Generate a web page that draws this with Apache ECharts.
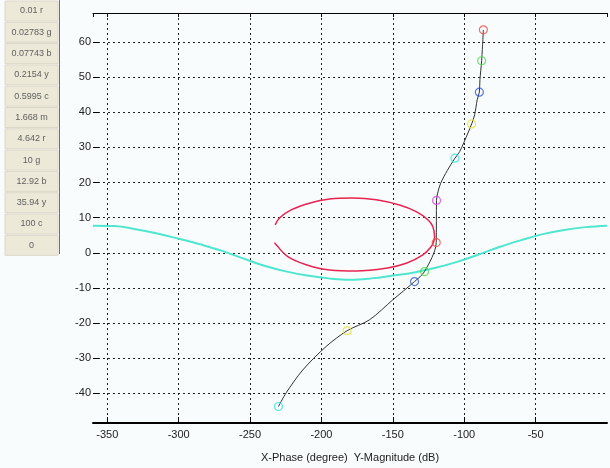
<!DOCTYPE html>
<html>
<head>
<meta charset="utf-8">
<script src="https://cdn.jsdelivr.net/npm/echarts@6/dist/echarts.min.js"></script>
<style>
  html, body { margin: 0; padding: 0; background: #f8fcfc; }
  #main { width: 610px; height: 468px; }
</style>
</head>
<body>
<div id="main"></div>
<script>
// frequency buttons on the left (value + colour letter)
var freqLabels = ['0.01 r', '0.02783 g', '0.07743 b', '0.2154 y', '0.5995 c', '1.668 m',
                  '4.642 r', '10 g', '12.92 b', '35.94 y', '100 c', '0'];

// open-loop nichols curve (phase deg, magnitude dB)
var plantPhase = [-86.6, -87.8, -89, -89.4, -90.9, -92.7, -94.8, -97.4, -103.2, -106.5,
                  -111.9, -116.5, -118.6, -119.4, -119.6, -127.8, -134.8, -150, -166.3,
                  -182, -196.7, -213.1, -224.7, -230.1];
var plantMag = [63.5, 54.7, 49.3, 45.75, 43.6, 39.3, 36.7, 34.1, 28.8, 26.95,
                23.4, 19.8, 17.0, 14.9, 2.9, -5.36, -8.2, -13.4, -19.1,
                -22.2, -26.7, -33.4, -39.9, -43.8];

// markers at the frequency points
var markerPhase = [-86.6, -87.8, -89.4, -94.8, -106.5, -119.4, -119.6, -127.8, -134.8, -182, -230.1];
var markerMag = [63.5, 54.7, 45.75, 36.7, 26.95, 14.9, 2.9, -5.36, -8.2, -22.2, -43.8];

// cyan contour
var cyanPhase = [-360, -345, -330, -315, -300, -285, -270, -255, -240, -225, -210, -195, -180,
                 -165, -150, -135, -120, -105, -90, -75, -60, -45, -30, -15, 0];
var cyanMag = [7.7, 7.6, 6.7, 5.5, 4.0, 2.4, 0.6, -1.6, -3.7, -5.3, -6.5, -7.3, -7.7,
               -7.3, -6.5, -5.6, -4.3, -2.6, -0.5, 1.7, 3.6, 5.3, 6.5, 7.3, 7.7];

// red contour (open on the left side)
var redPhase = [-232.4, -229.4, -221.2, -208.4, -194.4, -178, -161.6, -145.3, -133.6, -125.5,
                -122, -120.8, -121.3, -123.1, -129, -140.6, -154.6, -175.7, -194.4, -210.7,
                -223.6, -231.7, -232.9];
var redMag = [7.95, 9.9, 12.2, 14.1, 15.3, 15.6, 15.1, 13.6, 11.7, 9.4,
              7.5, 4.6, 3.2, 1.8, -0.6, -3.0, -4.4, -5.2, -4.9, -3.4,
              -1.1, 2.25, 2.9];

var colorMap = { r: '#f04848', g: '#48dc48', b: '#3058e8', y: '#e8e030', c: '#30e0e8', m: '#e040e8' };

function pairs(xs, ys) {
  return xs.map(function (x, i) { return [x, ys[i]]; });
}

var chart = echarts.init(document.getElementById('main'));

var markerData = markerPhase.map(function (x, i) {
  var letter = freqLabels[i].split(' ')[1];
  return {
    value: [x, markerMag[i]],
    itemStyle: { color: 'transparent', borderColor: colorMap[letter], borderWidth: 1.2 }
  };
});

// left-side buttons
var buttons = [];
freqLabels.forEach(function (t, i) {
  var y = 1 + i * 21.3;
  buttons.push({
    type: 'rect',
    shape: { x: 5, y: y, width: 53, height: 20 },
    style: { fill: '#ece9d8', stroke: '#dcd8c8', lineWidth: 1 },
    silent: true
  });
  buttons.push({
    type: 'text',
    x: 31.5, y: y + 10,
    style: {
      text: t, fill: '#606060', font: '9px "Liberation Sans", Arial, sans-serif',
      align: 'center', verticalAlign: 'middle'
    },
    silent: true
  });
});
buttons.push({
  type: 'line',
  shape: { x1: 59.5, y1: 0, x2: 59.5, y2: 254 },
  style: { stroke: '#707070', lineWidth: 1 },
  silent: true
});

var labelFont = { color: '#222', fontSize: 11, fontFamily: '"Liberation Sans", Arial, sans-serif' };
var dotted = { color: '#222', width: 1, type: [2, 3] };

var option = {
  backgroundColor: '#f8fcfc',
  animation: false,
  grid: { left: 93, right: 3, top: 13, bottom: 45 },
  graphic: buttons,
  xAxis: [{
    type: 'value',
    min: -360,
    max: 0,
    splitNumber: 7,
    position: 'bottom',
    name: 'X-Phase (degree)  Y-Magnitude (dB)',
    nameLocation: 'middle',
    nameGap: 29,
    nameTextStyle: labelFont,
    axisLine: { show: true, onZero: false, lineStyle: { color: '#000', width: 2 } },
    axisTick: { show: true, inside: true, length: 6, lineStyle: { color: '#000' } },
    axisLabel: Object.assign({ margin: 6, showMinLabel: false, showMaxLabel: false }, labelFont),
    splitLine: { show: true, showMinLine: false, showMaxLine: false, lineStyle: dotted }
  }, {
    type: 'value',
    min: -360,
    max: 0,
    splitNumber: 7,
    position: 'top',
    axisLine: { show: true, onZero: false, lineStyle: { color: '#000', width: 1 } },
    axisTick: { show: true, inside: true, length: 4, lineStyle: { color: '#000' } },
    axisLabel: { show: false },
    splitLine: { show: false }
  }],
  yAxis: {
    type: 'value',
    min: -48.5,
    max: 68.3,
    splitNumber: 12,
    axisLine: { show: false, onZero: false },
    axisTick: { show: true, inside: true, length: 6, lineStyle: { color: '#000' } },
    axisLabel: Object.assign({ margin: 2, showMinLabel: false, showMaxLabel: false }, labelFont),
    splitLine: { show: true, showMinLine: false, showMaxLine: false, lineStyle: dotted }
  },
  series: [{
    type: 'line',
    data: pairs(cyanPhase, cyanMag),
    smooth: 0.4,
    showSymbol: false,
    lineStyle: { color: '#4fe6cf', width: 2 },
    z: 3
  }, {
    type: 'line',
    data: pairs(redPhase, redMag),
    smooth: 0.4,
    showSymbol: false,
    lineStyle: { color: '#e8234f', width: 1.5 },
    z: 4
  }, {
    type: 'line',
    data: pairs(plantPhase, plantMag),
    smooth: 0.3,
    showSymbol: false,
    lineStyle: { color: '#333', width: 1 },
    z: 5
  }, {
    type: 'scatter',
    data: markerData,
    symbol: 'circle',
    symbolSize: 8,
    z: 6
  }]
};

chart.setOption(option);
</script>
</body>
</html>
